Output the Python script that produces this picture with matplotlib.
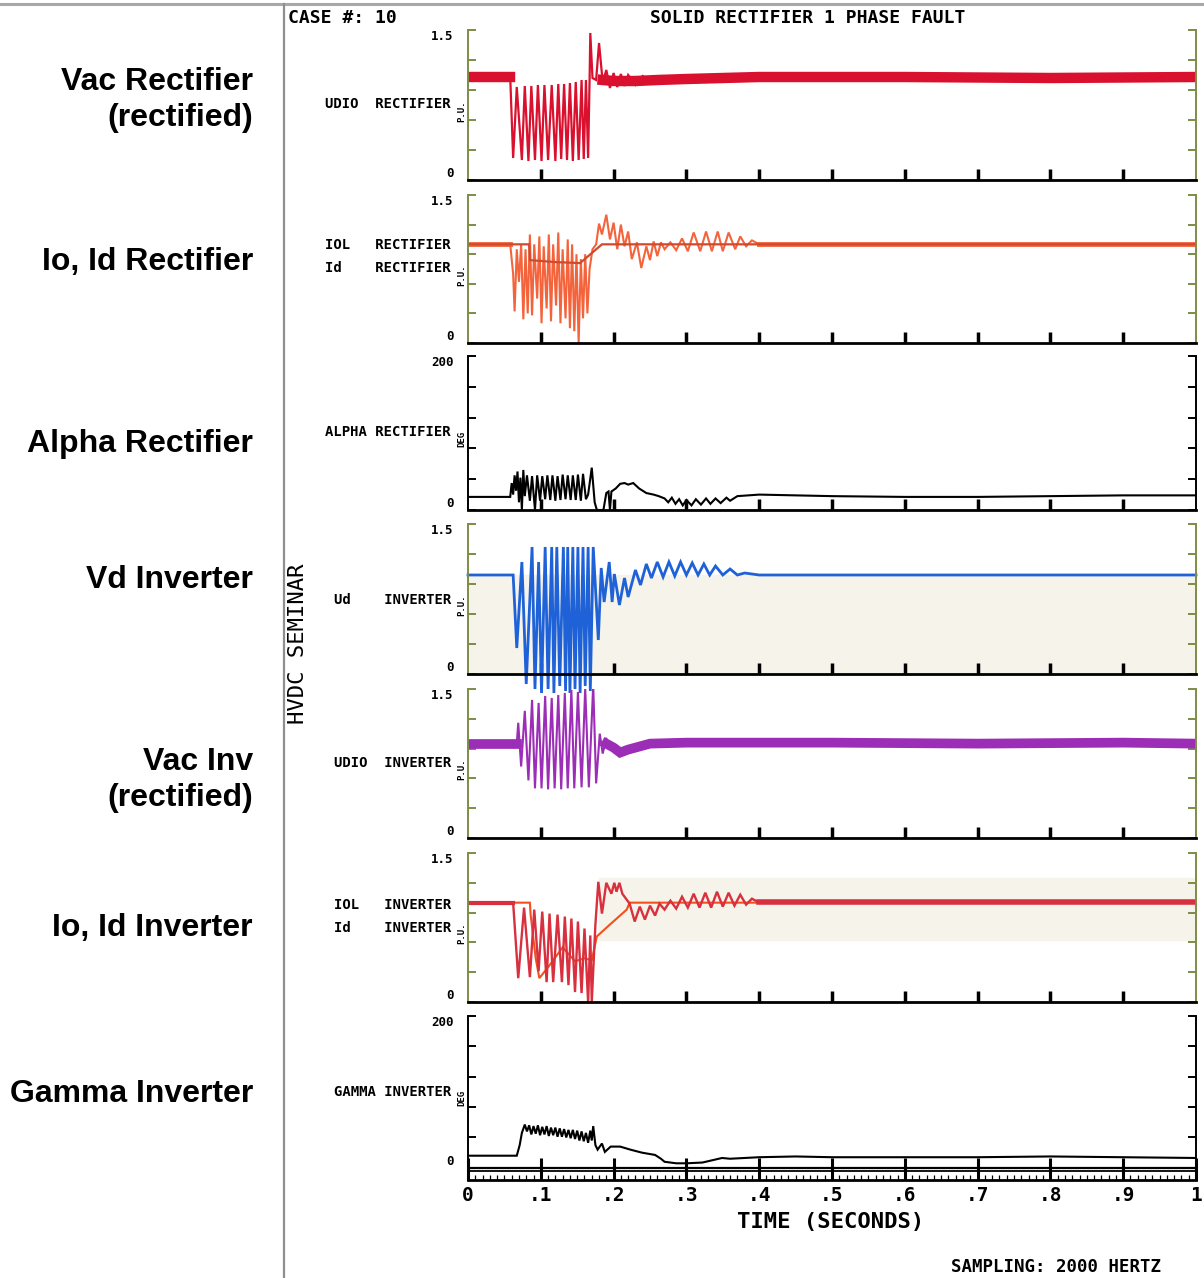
import numpy as np
import matplotlib
matplotlib.use('Agg')
import matplotlib.pyplot as plt
from matplotlib.lines import Line2D

W, H = 1204, 1278
MONO = 'DejaVu Sans Mono'

# ---- traces: (time s, value) ----
# Vac rectifier (rectified), p.u.
vac_rect_pre = [(0.0, 1.03), (0.03, 1.03), (0.058, 1.03)]
vac_rect_fault = [(0.058, 1.03), (0.062, 0.22), (0.067, 0.93), (0.074, 0.20), (0.078, 0.94), (0.083, 0.19),
                  (0.087, 0.94), (0.092, 0.20), (0.096, 0.95), (0.101, 0.19), (0.105, 0.95), (0.110, 0.20),
                  (0.115, 0.95), (0.120, 0.19), (0.124, 0.96), (0.128, 0.21), (0.132, 0.96), (0.136, 0.20),
                  (0.140, 0.97), (0.144, 0.19), (0.148, 0.98), (0.152, 0.20), (0.156, 1.00), (0.159, 0.21),
                  (0.162, 1.00), (0.165, 0.22), (0.167, 1.00), (0.168, 1.47), (0.171, 1.02), (0.176, 1.00),
                  (0.180, 1.37), (0.185, 0.98), (0.190, 1.10), (0.195, 0.92), (0.200, 1.07), (0.205, 0.93),
                  (0.210, 1.06), (0.215, 0.94), (0.220, 1.05), (0.230, 0.95), (0.240, 1.04), (0.250, 0.98)]
vac_rect_post = [(0.185, 1.00), (0.20, 0.99), (0.23, 0.99), (0.26, 1.00), (0.30, 1.01), (0.35, 1.02),
                 (0.40, 1.03), (0.60, 1.03), (0.80, 1.02), (1.00, 1.03)]

# Io / Id rectifier, p.u.
io_rect = [(0.0, 1.0), (0.084, 1.0), (0.085, 0.84), (0.12, 0.82), (0.154, 0.81), (0.184, 1.0), (1.0, 1.0)]
id_rect_pre = [(0.0, 1.0), (0.058, 1.0)]
id_rect_fault = [(0.058, 1.0), (0.062, 0.70), (0.064, 0.32), (0.067, 0.95), (0.070, 0.62), (0.073, 1.00),
                 (0.076, 0.24), (0.079, 0.95), (0.082, 0.30), (0.085, 1.10), (0.088, 0.28), (0.091, 1.00),
                 (0.095, 0.45), (0.098, 1.08), (0.101, 0.20), (0.104, 0.98), (0.108, 0.35), (0.111, 1.10),
                 (0.114, 0.22), (0.117, 1.00), (0.121, 0.38), (0.124, 1.12), (0.127, 0.20), (0.130, 0.95),
                 (0.134, 0.25), (0.137, 1.05), (0.140, 0.15), (0.143, 1.00), (0.146, 0.12), (0.149, 0.90),
                 (0.152, 0.00), (0.155, 0.85), (0.158, 0.25), (0.161, 0.90), (0.164, 0.30), (0.167, 0.75),
                 (0.171, 0.95), (0.176, 1.00), (0.180, 1.21), (0.184, 1.10), (0.190, 1.30), (0.195, 1.05),
                 (0.200, 1.22), (0.205, 0.95), (0.210, 1.20), (0.215, 0.98), (0.220, 1.13), (0.225, 0.85),
                 (0.232, 1.02), (0.238, 0.76), (0.245, 0.98), (0.250, 0.84), (0.255, 1.03), (0.260, 0.88),
                 (0.265, 1.02), (0.270, 0.95), (0.278, 1.02), (0.286, 0.94), (0.294, 1.06), (0.302, 0.93),
                 (0.310, 1.12), (0.319, 0.93), (0.327, 1.13), (0.335, 0.93), (0.343, 1.13), (0.350, 0.93),
                 (0.358, 1.12), (0.367, 0.95), (0.374, 1.08), (0.382, 0.98), (0.390, 1.04), (0.400, 1.00)]
id_rect_post = [(0.40, 1.0), (0.60, 1.0), (0.80, 1.0), (1.00, 1.0)]

# Alpha rectifier, deg
alpha_rect = [(0.0, 17), (0.058, 17), (0.060, 35), (0.062, 20), (0.064, 45), (0.066, 25), (0.068, 50),
              (0.070, 10), (0.072, 42), (0.074, 0), (0.076, 52), (0.078, 18), (0.081, 45), (0.085, 12),
              (0.088, 44), (0.092, 0), (0.095, 45), (0.099, 12), (0.102, 44), (0.106, 14), (0.109, 45),
              (0.113, 13), (0.116, 45), (0.120, 12), (0.123, 44), (0.127, 13), (0.130, 46), (0.134, 14),
              (0.137, 45), (0.141, 13), (0.144, 45), (0.148, 13), (0.151, 46), (0.155, 12), (0.158, 47),
              (0.162, 14), (0.165, 20), (0.170, 55), (0.174, 10), (0.177, 0), (0.186, 0), (0.190, 22),
              (0.193, 24), (0.195, 0), (0.197, 24), (0.203, 28), (0.209, 34), (0.215, 35), (0.220, 33),
              (0.227, 35), (0.235, 28), (0.245, 22), (0.255, 20), (0.262, 18), (0.270, 15), (0.275, 10),
              (0.280, 16), (0.285, 8), (0.290, 14), (0.295, 6), (0.300, 13), (0.307, 6), (0.313, 14),
              (0.320, 7), (0.327, 15), (0.333, 8), (0.340, 15), (0.347, 9), (0.355, 16), (0.360, 12),
              (0.370, 18), (0.400, 20), (0.450, 19), (0.500, 18), (0.600, 17), (0.700, 17), (0.800, 18),
              (0.900, 19), (1.000, 19)]

# Vd inverter, p.u.
vd_inv = [(0.0, 0.99), (0.062, 0.99), (0.067, 0.26), (0.074, 1.12), (0.080, -0.10), (0.088, 1.27),
          (0.092, -0.15), (0.097, 1.12), (0.101, -0.19), (0.106, 1.27), (0.110, -0.15), (0.115, 1.27),
          (0.118, -0.19), (0.122, 1.27), (0.126, -0.12), (0.131, 1.27), (0.134, -0.17), (0.137, 1.27),
          (0.140, -0.19), (0.144, 1.27), (0.147, -0.15), (0.151, 1.27), (0.154, -0.19), (0.158, 1.27),
          (0.161, -0.12), (0.165, 1.27), (0.168, -0.17), (0.172, 1.27), (0.179, 0.34), (0.183, 1.06),
          (0.187, 0.72), (0.194, 1.12), (0.198, 0.72), (0.201, 1.00), (0.208, 0.69), (0.215, 0.96),
          (0.220, 0.77), (0.230, 1.04), (0.237, 0.89), (0.245, 1.10), (0.252, 0.96), (0.260, 1.12),
          (0.268, 0.97), (0.276, 1.12), (0.284, 0.98), (0.292, 1.12), (0.300, 0.99), (0.308, 1.11),
          (0.316, 0.99), (0.324, 1.10), (0.332, 0.99), (0.340, 1.08), (0.350, 0.99), (0.360, 1.05),
          (0.370, 0.99), (0.380, 1.01), (0.400, 0.99), (0.600, 0.99), (0.800, 0.99), (1.000, 0.99)]

# Vac inverter (rectified), p.u.
vac_inv_pre = [(0.0, 0.95), (0.067, 0.95)]
vac_inv_fault = [(0.067, 0.95), (0.069, 1.16), (0.073, 0.72), (0.078, 1.28), (0.083, 0.58), (0.088, 1.39),
                 (0.092, 0.50), (0.097, 1.36), (0.101, 0.50), (0.106, 1.43), (0.110, 0.49), (0.115, 1.41),
                 (0.119, 0.50), (0.124, 1.44), (0.128, 0.49), (0.133, 1.46), (0.137, 0.50), (0.142, 1.49),
                 (0.146, 0.50), (0.151, 1.47), (0.156, 0.51), (0.161, 1.51), (0.166, 0.51), (0.172, 1.54),
                 (0.176, 0.55), (0.181, 1.05), (0.185, 0.85), (0.190, 1.00)]
vac_inv_post = [(0.190, 0.95), (0.200, 0.91), (0.209, 0.86), (0.220, 0.89), (0.235, 0.92), (0.250, 0.95),
                (0.300, 0.96), (0.400, 0.96), (0.500, 0.96), (0.700, 0.95), (0.900, 0.96), (1.000, 0.95)]

# Io / Id inverter, p.u.
io_inv = [(0.0, 1.0), (0.085, 1.0), (0.086, 0.88), (0.093, 0.44), (0.098, 0.24), (0.110, 0.35),
          (0.130, 0.55), (0.147, 0.41), (0.160, 0.44), (0.170, 0.42), (0.177, 0.66), (0.195, 0.78),
          (0.218, 0.93), (0.222, 1.0), (1.0, 1.0)]
id_inv_pre = [(0.0, 1.0), (0.062, 1.0)]
id_inv_fault = [(0.062, 1.00), (0.069, 0.24), (0.077, 0.95), (0.085, 0.25), (0.091, 0.93), (0.097, 0.31),
                (0.102, 0.91), (0.108, 0.20), (0.112, 0.89), (0.117, 0.20), (0.123, 0.88), (0.129, 0.20),
                (0.133, 0.86), (0.138, 0.17), (0.142, 0.84), (0.147, 0.10), (0.151, 0.81), (0.156, 0.09),
                (0.160, 0.74), (0.165, 0.00), (0.168, 0.67), (0.170, 0.00), (0.175, 0.78), (0.179, 1.21),
                (0.184, 0.89), (0.190, 1.20), (0.197, 1.09), (0.201, 1.20), (0.204, 1.11), (0.208, 1.20),
                (0.212, 1.09), (0.222, 0.99), (0.229, 0.81), (0.236, 0.96), (0.243, 0.83), (0.250, 0.97),
                (0.257, 0.87), (0.263, 0.99), (0.270, 0.93), (0.278, 1.02), (0.286, 0.94), (0.294, 1.06),
                (0.302, 0.95), (0.310, 1.09), (0.318, 0.95), (0.326, 1.10), (0.334, 0.95), (0.342, 1.11),
                (0.350, 0.96), (0.358, 1.10), (0.366, 0.97), (0.374, 1.08), (0.382, 0.98), (0.390, 1.04),
                (0.400, 1.00)]
id_inv_post = [(0.40, 1.01), (0.60, 1.01), (0.80, 1.01), (1.00, 1.01)]

# Gamma inverter, deg
gamma_inv = [(0.0, 16), (0.067, 16), (0.071, 30), (0.074, 46), (0.078, 57), (0.081, 48), (0.084, 56),
             (0.087, 44), (0.090, 55), (0.093, 45), (0.096, 56), (0.099, 43), (0.102, 54), (0.105, 44),
             (0.108, 55), (0.111, 42), (0.114, 53), (0.117, 43), (0.120, 53), (0.123, 41), (0.126, 52),
             (0.129, 41), (0.132, 51), (0.135, 40), (0.138, 50), (0.141, 39), (0.144, 50), (0.147, 38),
             (0.150, 49), (0.153, 36), (0.156, 48), (0.159, 35), (0.162, 46), (0.165, 33), (0.168, 49),
             (0.170, 36), (0.172, 55), (0.175, 30), (0.178, 24), (0.184, 32), (0.188, 21), (0.196, 28),
             (0.209, 28), (0.223, 24), (0.239, 20), (0.257, 17), (0.265, 12), (0.270, 8), (0.286, 6),
             (0.300, 6), (0.322, 7), (0.349, 13), (0.360, 12), (0.400, 14), (0.450, 15), (0.500, 14),
             (0.600, 14), (0.700, 14), (0.800, 15), (0.900, 14), (1.000, 13)]

side_labels = ['Vac Rectifier\n(rectified)', 'Io, Id Rectifier', 'Alpha Rectifier', 'Vd Inverter',
               'Vac Inv\n(rectified)', 'Io, Id Inverter', 'Gamma Inverter']
time_labels = ['0', '.1', '.2', '.3', '.4', '.5', '.6', '.7', '.8', '.9', '1']

OLIVE = '#7d8c46'

fig = plt.figure(figsize=(W / 100, H / 100), dpi=100)


def fx(x):
    return x / W


def fy(y):
    return 1 - y / H


def xy(pairs):
    a = np.array(pairs, dtype=float)
    return a[:, 0], a[:, 1]


def make_ax(top_px, bot_px, ylo, yhi, ytop, spine_col, unit):
    ax = fig.add_axes([fx(468), fy(bot_px), 728 / W, (bot_px - top_px) / H])
    ax.set_xlim(0, 1)
    ax.set_ylim(ylo, yhi)
    ax.patch.set_alpha(0)
    ax.spines['top'].set_visible(False)
    for s in ['left', 'right']:
        ax.spines[s].set_color(spine_col)
        ax.spines[s].set_linewidth(1.4)
    ax.spines['bottom'].set_color('black')
    ax.spines['bottom'].set_linewidth(2)
    ax.set_yticks(np.linspace(0, ytop, 6))
    ax.tick_params(axis='y', direction='in', left=True, right=True, length=6, width=1.4,
                   color=spine_col, labelleft=False)
    ax.set_xticks(np.arange(1, 10) / 10)
    ax.tick_params(axis='x', direction='in', length=8, width=2.5, color='black', labelbottom=False)
    tr = ax.get_yaxis_transform()
    top_lab = '1.5' if ytop < 10 else '200'
    ax.text(-0.02, ytop, top_lab, transform=tr, ha='right', va='top', fontsize=9,
            family=MONO, weight='bold')
    ax.text(-0.02, 0, '0', transform=tr, ha='right', va='bottom', fontsize=9,
            family=MONO, weight='bold')
    ax.text(-0.008, ytop * 0.46, unit, transform=tr, rotation=90, ha='center', va='center',
            fontsize=6.5, family=MONO, weight='bold')
    return ax


def trace(ax, pairs, color, lw, **kw):
    t, v = xy(pairs)
    ax.plot(t, v, color=color, lw=lw, solid_joinstyle='miter', **kw)


# panel 1: Vac rectifier
ax1 = make_ax(30, 180, 0, 1.5, 1.5, OLIVE, 'P.U.')
trace(ax1, vac_rect_pre, '#d9102e', 7.5)
trace(ax1, vac_rect_fault, '#d9102e', 1.6)
trace(ax1, vac_rect_post, '#d9102e', 7.5)

# panel 2: Io, Id rectifier
ax2 = make_ax(195, 343, 0, 1.5, 1.5, OLIVE, 'P.U.')
trace(ax2, id_rect_pre, '#f4643c', 3.5)
trace(ax2, id_rect_fault, '#f4643c', 1.5)
trace(ax2, id_rect_post, '#f4643c', 3.5)
trace(ax2, io_rect, '#cf4a2c', 1.6)

# panel 3: alpha rectifier
ax3 = make_ax(356, 510, 0, 200, 200, 'black', 'DEG')
trace(ax3, alpha_rect, 'black', 1.5)

# panel 4: Vd inverter
ax4 = make_ax(524, 674, 0, 1.5, 1.5, OLIVE, 'P.U.')
ax4.axhspan(0, 0.99, color='#f5f3ea', zorder=0)
trace(ax4, vd_inv, '#1f62d8', 2.0, clip_on=False)

# panel 5: Vac inverter
ax5 = make_ax(689, 838, 0, 1.5, 1.5, OLIVE, 'P.U.')
trace(ax5, vac_inv_pre, '#9c2db6', 7)
trace(ax5, vac_inv_fault, '#9c2db6', 1.5)
trace(ax5, vac_inv_post, '#9c2db6', 7)

# panel 6: Io, Id inverter
ax6 = make_ax(853, 1002, 0, 1.5, 1.5, OLIVE, 'P.U.')
ax6.axhspan(0.62, 1.25, xmin=0.18, xmax=1, color='#f6f4ea', zorder=0)
trace(ax6, io_inv, '#f2501c', 1.5)
trace(ax6, id_inv_pre, '#d8303e', 3)
trace(ax6, id_inv_fault, '#d8303e', 1.7)
trace(ax6, id_inv_post, '#d8303e', 4)

# panel 7: gamma inverter, with time ruler underneath
ax7 = make_ax(1016, 1180, -16, 200, 200, 'black', 'DEG')
trace(ax7, gamma_inv, 'black', 1.5)
ax7.axhline(0, color='black', lw=1.6)
ax7.axhline(-4, color='black', lw=1.3)
ax7.set_xticks(np.arange(11) / 10)
ax7.set_xticks(np.arange(101) / 100, minor=True)
ax7.set_xticklabels(time_labels, family=MONO, weight='bold', fontsize=14)
ax7.tick_params(axis='x', which='major', direction='in', length=16, width=2.2,
                labelbottom=True, pad=4)
ax7.tick_params(axis='x', which='minor', direction='in', length=3.5, width=0.9, color='black')

# trace labels
MS = dict(family=MONO, weight='bold', fontsize=10, ha='right', va='center')
fig.text(fx(451), fy(104), 'UDIO  RECTIFIER', **MS)
fig.text(fx(451), fy(245), 'IOL   RECTIFIER', **MS)
fig.text(fx(451), fy(268), 'Id    RECTIFIER', **MS)
fig.text(fx(451), fy(432), 'ALPHA RECTIFIER', **MS)
fig.text(fx(451), fy(600), 'Ud    INVERTER', **MS)
fig.text(fx(451), fy(763), 'UDIO  INVERTER', **MS)
fig.text(fx(451), fy(905), 'IOL   INVERTER', **MS)
fig.text(fx(451), fy(928), 'Id    INVERTER', **MS)
fig.text(fx(451), fy(1092), 'GAMMA INVERTER', **MS)

fig.text(fx(288), fy(18), 'CASE #: 10', family=MONO, weight='bold', fontsize=13,
         ha='left', va='center')
fig.text(fx(808), fy(18), 'SOLID RECTIFIER 1 PHASE FAULT', family=MONO, weight='bold',
         fontsize=13, ha='center', va='center')
fig.text(fx(298), fy(644), 'HVDC SEMINAR', family=MONO, fontsize=16, rotation=90,
         ha='center', va='center')
fig.text(fx(831), fy(1222), 'TIME (SECONDS)', family=MONO, weight='bold', fontsize=16,
         ha='center', va='center')
fig.text(fx(1056), fy(1267), 'SAMPLING: 2000 HERTZ', family=MONO, weight='bold', fontsize=12.5,
         ha='center', va='center')

# left column labels
label_y = [100, 262, 444, 580, 780, 928, 1094]
for lab, y in zip(side_labels, label_y):
    fig.text(fx(253), fy(y), lab, family='Liberation Sans', weight='bold', fontsize=23,
             ha='right', va='center', multialignment='right', linespacing=1.22)

# frame lines of the slide
fig.add_artist(Line2D([0, 1], [fy(4), fy(4)], color='#a8a8a8', lw=2.2))
fig.add_artist(Line2D([fx(284), fx(284)], [0, fy(4)], color='#8f8f8f', lw=1.6))

fig.savefig('out.png', dpi=100)
